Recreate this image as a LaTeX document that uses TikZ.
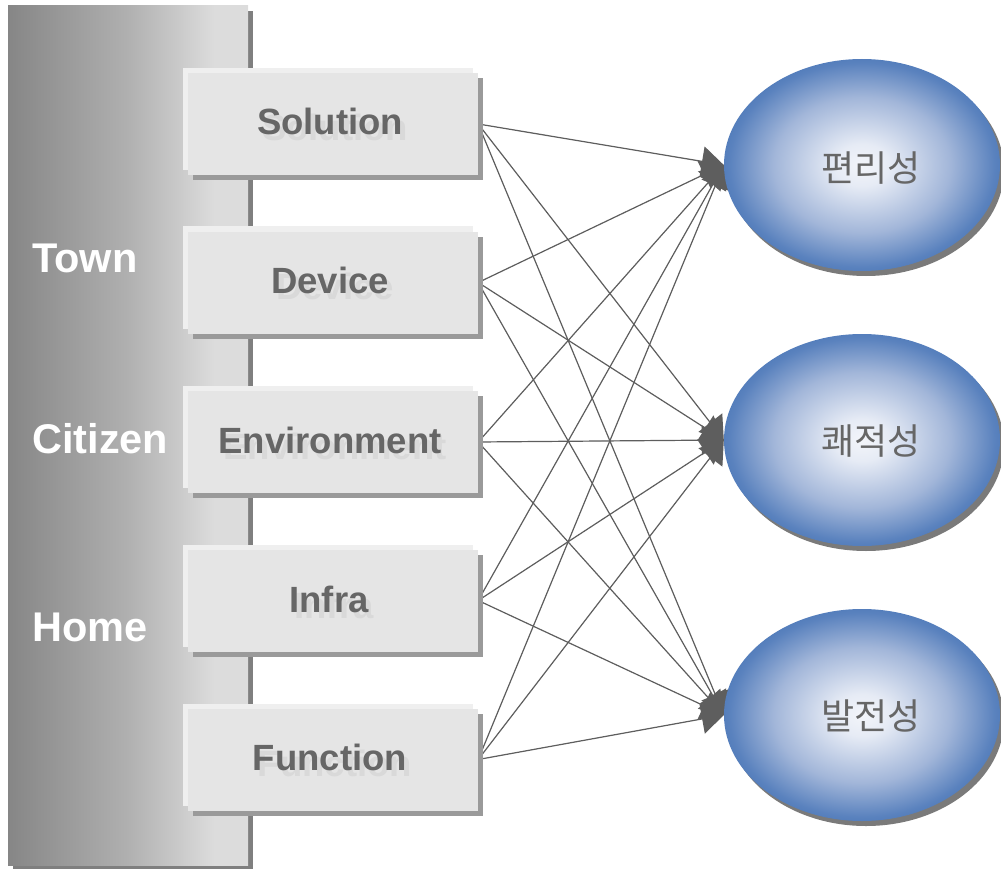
\documentclass[tikz,border=0pt]{standalone}
\usepackage{fontspec}
\setmainfont{Liberation Sans}
\newfontfamily\kofont{Noto Sans CJK KR}
\usetikzlibrary{arrows.meta,shadows,shapes.geometric}
\definecolor{lblgray}{HTML}{666666}
\definecolor{ghost}{HTML}{D9D9D9}
\definecolor{boxfill}{HTML}{E5E5E5}
\definecolor{hilite}{HTML}{EFEFEF}
\definecolor{shgray}{HTML}{9A9A9A}
\definecolor{tallsh}{HTML}{7F7F7F}
\definecolor{linegray}{HTML}{5E5E5E}
\definecolor{gA}{HTML}{868686}
\definecolor{gB}{HTML}{B0B0B0}
\definecolor{gC}{HTML}{DCDCDC}
\definecolor{eA}{HTML}{F3F5FA}
\definecolor{eB}{HTML}{E6EBF5}
\definecolor{eC}{HTML}{A2B6D9}
\definecolor{eD}{HTML}{5A82BE}
\definecolor{eE}{HTML}{3B6CB0}
\definecolor{esh}{HTML}{7A7A7A}
\pgfdeclarehorizontalshading{tallshade}{100bp}{color(0bp)=(gA); color(25bp)=(gA); color(50bp)=(gB); color(68bp)=(gC); color(100bp)=(gC)}
\pgfdeclareradialshading{ballshade}{\pgfpoint{0bp}{0bp}}{color(0bp)=(eA); color(5bp)=(eB); color(16bp)=(eC); color(24bp)=(eD); color(30bp)=(eE); color(50bp)=(eE)}
\pgfdeclarelayer{lines}
\pgfsetlayers{lines,main}
\tikzset{
  boxst/.style={rectangle, minimum width=290pt, minimum height=102pt, inner sep=0pt, fill=boxfill,
    general shadow={shadow xshift=-5pt, shadow yshift=5pt, fill=hilite},
    drop shadow={shadow xshift=5pt, shadow yshift=-5pt, fill=shgray, opacity=1}},
  boxlbl/.style={anchor=base, inner sep=0pt, text=lblgray, font=\fontsize{36.5}{40}\bfseries\selectfont},
  ghostlbl/.style={anchor=base, inner sep=0pt, text=ghost, font=\fontsize{36.5}{40}\bfseries\selectfont},
  sidelbl/.style={anchor=base west, inner sep=0pt, text=white, font=\fontsize{41.5}{44}\bfseries\selectfont},
  ballst/.style={ellipse, minimum width=276pt, minimum height=212pt, inner sep=0pt, shading=ballshade,
    drop shadow={shadow xshift=4pt, shadow yshift=-5pt, fill=esh, opacity=1}},
  kolbl/.style={inner sep=0pt, text=lblgray, font=\kofont\fontsize{36}{40}\selectfont},
  conn/.style={draw=linegray, line width=1.2pt, -{Triangle[length=22pt,width=30pt]}, fill=linegray}
}
\begin{document}
\begin{tikzpicture}[x=1pt,y=-1pt]
\useasboundingbox (0,0) rectangle (1001,869);
% tall panel
\fill[tallsh] (13,11) rectangle (253,870);
\shade[shading=tallshade] (8,6) rectangle (248,865);
\node[sidelbl] (town) at (32,272) {Town};
\node[sidelbl] (citizen) at (32,453) {Citizen};
\node[sidelbl] (home) at (32,641) {Home};
% boxes
\node[boxst] (sol) at (333,124) {};
\node[boxst] (dev) at (333,282.5) {};
\node[boxst] (env) at (333,442) {};
\node[boxst] (inf) at (333,600.5) {};
\node[boxst] (fun) at (333,759.5) {};
\node[ghostlbl] (solg) at (335,141) {Solution};
\node[boxlbl] (soll) at (330,135) {Solution};
\node[ghostlbl] (devg) at (335,299) {Device};
\node[boxlbl] (devl) at (330,293) {Device};
\node[ghostlbl] (envg) at (335,459) {Environment};
\node[boxlbl] (envl) at (330,453) {Environment};
\node[ghostlbl] (infg) at (334,618) {Infra};
\node[boxlbl] (infl) at (329,612) {Infra};
\node[ghostlbl] (fung) at (335,776) {Function};
\node[boxlbl] (funl) at (330,770) {Function};
% ellipses
\node[ballst] (e1) at (862,165) {};
\node[ballst] (e2) at (862,440) {};
\node[ballst] (e3) at (862,715) {};
\node[kolbl] (k1) at (871,168) {편리성};
\node[kolbl] (k2) at (871,441) {쾌적성};
\node[kolbl] (k3) at (871,716) {발전성};
% connectors
\begin{pgfonlayer}{lines}
\foreach \a in {sol,dev,env,inf,fun}{
  \foreach \b in {e1,e2,e3}{
    \draw[conn] (\a.east) -- (\b.west);
  }
}
\end{pgfonlayer}
\end{tikzpicture}
\end{document}
